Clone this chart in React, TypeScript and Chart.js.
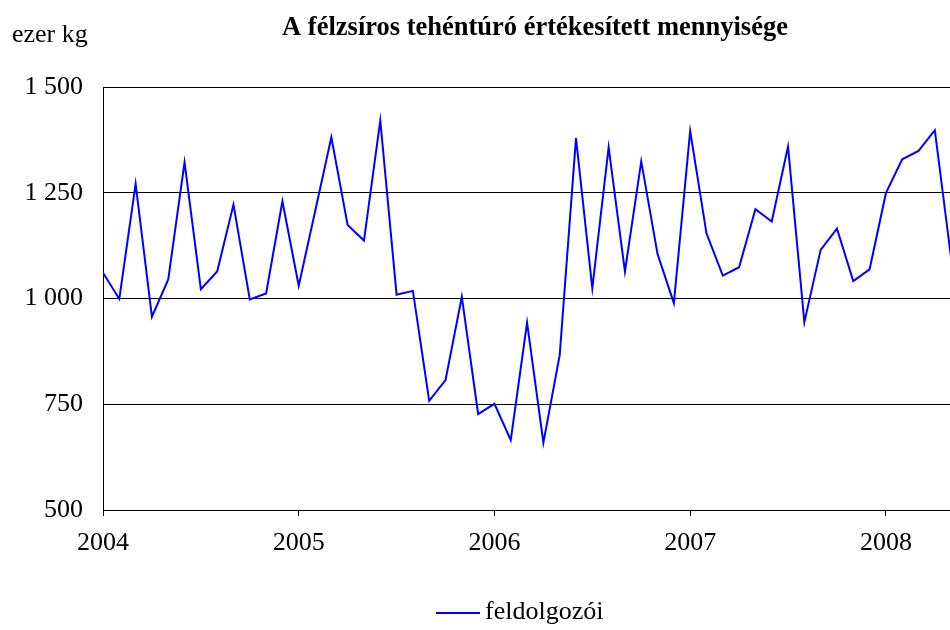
import React, { useEffect, useRef } from "react";
import { Chart, registerables } from "chart.js";

Chart.register(...registerables);

const title = "A félzsíros tehéntúró értékesített mennyisége";
const unitLabel = "ezer kg";
const seriesName = "feldolgozói";
const years = ["2004", "2005", "2006", "2007", "2008"];
const yTicks = [500, 750, 1000, 1250, 1500];

const v2004 = [1061, 999, 1271, 957, 1045, 1322, 1022, 1064, 1222, 998, 1012, 1230];
const v2005 = [1030, 1205, 1381, 1174, 1137, 1421, 1009, 1018, 758, 807, 1004, 727];
const v2006 = [751, 665, 943, 659, 866, 1379, 1024, 1357, 1064, 1324, 1105, 989];
const v2007 = [1396, 1154, 1054, 1074, 1211, 1182, 1359, 944, 1115, 1165, 1041, 1069];
const v2008 = [1249, 1329, 1349, 1398, 1095];

const values = [...v2004, ...v2005, ...v2006, ...v2007, ...v2008];

const FONT = "'Liberation Serif', 'Times New Roman', serif";
const BLUE = "#0000ff";

const fmt = (n: number) => {
  const s = String(Math.round(n));
  return s.length > 3 ? s.slice(0, s.length - 3) + " " + s.slice(-3) : s;
};

const textPlugin = {
  id: "texts",
  afterDraw(chart: any) {
    const ctx = chart.ctx;
    ctx.save();
    ctx.fillStyle = "#000";
    ctx.textBaseline = "middle";
    ctx.font = `bold 26.5px ${FONT}`;
    ctx.textAlign = "center";
    ctx.fillText(title, 535, 28);
    ctx.font = `26px ${FONT}`;
    ctx.textAlign = "left";
    ctx.fillText(unitLabel, 12, 35);
    // legend
    ctx.strokeStyle = BLUE;
    ctx.lineWidth = 2;
    ctx.beginPath();
    ctx.moveTo(436, 613);
    ctx.lineTo(480, 613);
    ctx.stroke();
    ctx.fillText(seriesName, 485, 612);
    ctx.restore();
  },
};

export default function App() {
  const ref = useRef<HTMLCanvasElement | null>(null);
  useEffect(() => {
    if (!ref.current) return;
    const chart = new Chart(ref.current, {
      type: "line",
      data: {
        datasets: [
          {
            label: seriesName,
            data: values.map((v, i) => ({ x: i, y: v })),
            borderColor: BLUE,
            backgroundColor: BLUE,
            borderWidth: 2,
            pointRadius: 0,
            tension: 0,
          },
        ],
      },
      options: {
        animation: false,
        responsive: false,
        layout: { padding: { top: 87, right: 0, bottom: 80, left: 0 } },
        plugins: {
          legend: { display: false },
          title: { display: false },
          tooltip: { enabled: false },
        },
        scales: {
          x: {
            type: "linear",
            min: 0,
            max: 51.93,
            afterBuildTicks: (scale: any) => {
              scale.ticks = years.map((_, i) => ({ value: i * 12 }));
            },
            afterFit: (scale: any) => {
              scale.height = 40;
            },
            ticks: {
              autoSkip: false,
              maxRotation: 0,
              padding: 12,
              color: "#000",
              font: { family: FONT, size: 26 },
              callback: (v: any) => years[Math.round(Number(v) / 12)] ?? "",
            },
            grid: {
              drawOnChartArea: false,
              drawTicks: true,
              tickLength: 6,
              color: "#000",
            },
            border: { display: true, color: "#000", width: 1 },
          },
          y: {
            min: 500,
            max: 1500,
            afterBuildTicks: (scale: any) => {
              scale.ticks = yTicks.map((v) => ({ value: v }));
            },
            afterFit: (scale: any) => {
              scale.width = 103;
            },
            ticks: {
              padding: 20,
              color: "#000",
              font: { family: FONT, size: 26 },
              callback: (v: any) => fmt(Number(v)),
            },
            grid: { color: "#000", lineWidth: 1, drawTicks: false },
            border: { display: true, color: "#000", width: 1 },
          },
        },
      },
      plugins: [textPlugin],
    });
    return () => chart.destroy();
  }, []);
  return (
    <canvas
      ref={ref}
      width={950}
      height={630}
      style={{ position: "fixed", left: 0, top: 0, display: "block", width: 950, height: 630 }}
    />
  );
}
